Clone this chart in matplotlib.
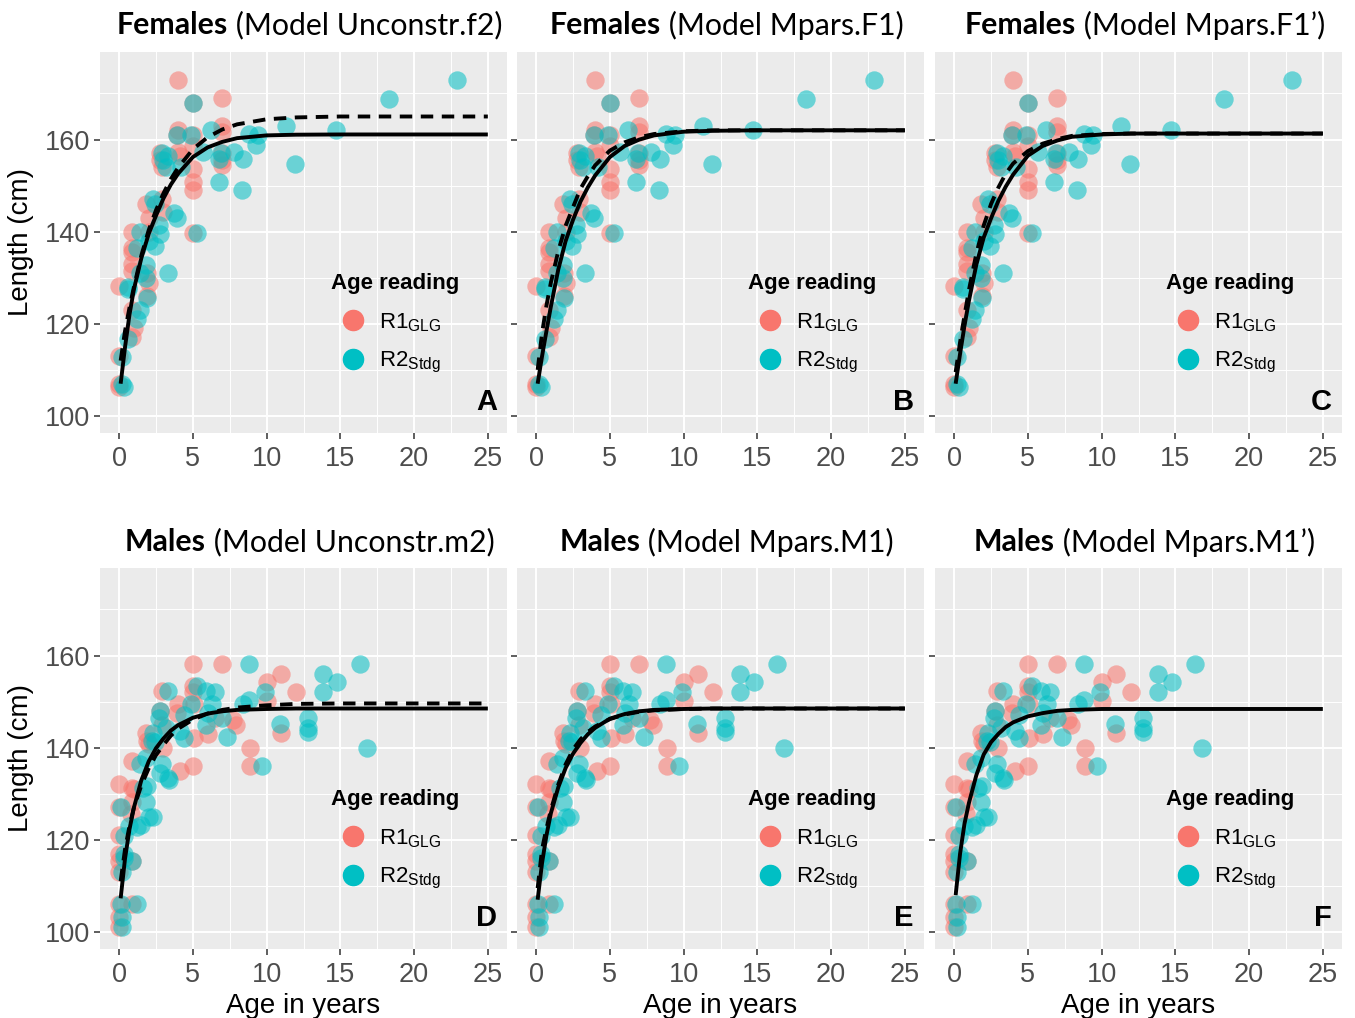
import matplotlib
matplotlib.use("Agg")
import matplotlib.pyplot as plt
from matplotlib.lines import Line2D

plt.rcParams['font.family'] = ['Liberation Sans', 'DejaVu Sans']
plt.rcParams['mathtext.fontset'] = 'custom'
plt.rcParams['mathtext.rm'] = 'Liberation Sans'

# ---- data ----
fem_r1_age = [0.0, 0.0, 0.0, 0.0, 0.9, 0.9, 0.9, 0.9, 0.9, 0.9, 0.9, 1.0, 1.8, 1.9, 1.9, 2.0, 2.0,
              2.0, 2.8, 2.8, 2.9, 2.9, 3.0, 3.9, 4.0, 4.0, 4.0, 4.1, 5.0, 5.0, 5.0, 5.0, 5.0, 5.0,
              5.0, 7.0, 7.0, 7.0, 7.0, 7.0, 7.0]
fem_r1_len = [106.9, 106.2, 113.0, 128.2, 117.1, 123.1, 131.4, 133.0, 135.5, 136.4, 140.0, 119.0,
              146.0, 126.0, 131.0, 128.8, 140.0, 143.0, 157.0, 155.5, 154.0, 147.0, 144.3, 161.0,
              162.0, 173.0, 157.3, 156.5, 168.0, 161.0, 158.7, 150.8, 149.0, 139.8, 153.5, 169.0,
              163.0, 161.6, 157.0, 155.5, 154.5]
fem_r2_age = [22.9, 18.3, 5.0, 6.2, 3.9, 4.9, 11.3, 14.7, 8.8, 9.4, 9.3, 5.7, 7.8, 8.4, 6.8, 11.9,
              3.3, 3.2, 4.2, 6.8, 8.3, 2.3, 2.4, 3.7, 3.9, 2.7, 2.8, 5.3, 1.4, 1.2, 2.4, 1.8, 3.3,
              0.6, 0.6, 1.4, 1.8, 1.9, 1.4, 1.2, 0.6, 0.2, 0.2, 0.3, 2.9, 3.0, 6.9, 2.0]
fem_r2_len = [173.0, 168.9, 168.0, 162.0, 161.0, 161.0, 162.9, 162.0, 161.2, 161.0, 158.8, 157.3,
              157.3, 155.7, 155.8, 154.7, 156.5, 154.0, 154.0, 150.8, 149.0, 147.0, 146.0, 144.0,
              142.9, 141.4, 139.6, 139.8, 140.0, 136.4, 136.8, 132.8, 131.0, 128.0, 127.5, 131.0,
              130.0, 125.6, 123.1, 121.0, 116.6, 112.8, 106.9, 106.2, 157.0, 155.5, 157.0, 138.0]

mal_r1_age = [5.0, 7.0, 11.0, 10.0, 12.0, 2.9, 5.0, 5.0, 4.0, 5.1, 10.0, 2.8, 7.9, 6.0, 11.0, 5.1,
              1.8, 1.9, 8.9, 8.9, 5.0, 0.9, 4.1, 0.0, 0.9, 0.0, 0.9, 0.8, 0.0, 0.0, 0.0, 0.0, 0.9,
              0.0, 0.0, 0.0, 2.9, 3.9, 0.9, 2.0, 6.5, 7.7, 1.0, 3.0]
mal_r1_len = [158.2, 158.2, 156.0, 154.3, 152.1, 152.3, 153.4, 152.1, 149.4, 149.4, 150.1, 148.0,
              145.0, 143.0, 143.2, 142.2, 143.2, 141.4, 140.0, 136.0, 136.0, 137.0, 135.0, 132.2,
              131.2, 127.1, 128.3, 125.6, 121.1, 117.0, 115.5, 113.0, 115.5, 106.0, 103.2, 101.0,
              145.0, 147.6, 106.0, 140.9, 146.5, 146.0, 131.1, 140.0]
mal_r2_age = [8.8, 16.3, 13.8, 14.8, 13.8, 3.3, 5.3, 5.9, 6.5, 9.9, 8.8, 8.4, 4.9, 6.3, 2.8, 2.7,
              4.4, 5.9, 10.9, 12.8, 12.8, 12.8, 7.3, 3.2, 4.1, 4.4, 2.3, 2.2, 16.8, 9.7, 1.8, 1.4,
              2.9, 3.3, 1.9, 1.6, 0.1, 1.8, 0.7, 1.2, 2.0, 0.3, 0.3, 0.9, 0.2, 0.1, 1.2, 0.2, 0.2,
              2.4, 3.4, 2.8, 1.5, 2.3, 0.3, 7.0, 6.0]
mal_r2_len = [158.2, 158.2, 156.0, 154.3, 152.1, 152.3, 153.4, 152.3, 152.1, 152.1, 150.3, 149.4,
              149.4, 149.4, 148.0, 146.5, 147.2, 145.0, 145.2, 146.4, 144.3, 143.3, 142.3, 144.3,
              143.6, 142.2, 143.2, 141.4, 140.0, 136.0, 137.8, 136.5, 136.4, 133.5, 131.7, 131.2,
              127.1, 128.1, 123.0, 122.8, 125.0, 120.9, 117.0, 115.5, 113.0, 106.0, 106.0, 103.2,
              101.0, 141.2, 133.0, 134.4, 123.2, 125.0, 116.0, 146.5, 147.5]

# fitted growth curves, read at these ages
curve_age = [0.1, 0.4, 0.7, 1.0, 1.5, 2.0, 2.5, 3.0, 3.5, 4.0, 5.0, 6.0, 7.0, 8.0, 10.0, 12.0, 15.0, 25.0]
a_solid = [107, 115, 122, 127.5, 134.2, 139.5, 143.5, 147.2, 150.2, 152.6, 156.2, 158.3, 159.5, 160.3, 160.9, 161.05, 161.1, 161.1]
a_dash = [112, 118.5, 123.5, 128, 134.8, 140.3, 144.7, 148.3, 151.4, 153.9, 157.9, 160.5, 162.2, 163.3, 164.4, 164.8, 165, 165]
b_solid = [107, 113, 118.5, 123.8, 131.8, 138, 142.6, 146.5, 149.6, 152.2, 156.2, 158.6, 160, 160.9, 161.7, 161.9, 162, 162]
b_dash = [110, 118, 124, 129, 135.8, 141.3, 145.3, 149.3, 152, 154.4, 157.6, 159.4, 160.5, 161.2, 161.8, 162, 162, 162]
c_solid = [107, 113.5, 119.6, 125, 132.8, 138.7, 142.9, 146.7, 149.8, 152.4, 156.5, 158.6, 159.8, 160.6, 161.1, 161.3, 161.3, 161.3]
c_dash = [109.5, 116, 121.8, 127.3, 135.2, 141.3, 146, 149.6, 152.6, 154.8, 157.5, 159.1, 160.1, 160.8, 161.2, 161.3, 161.3, 161.3]
d_solid = [107.3, 116, 122.3, 127, 132.9, 137, 139.9, 142, 143.7, 144.9, 146.5, 147.4, 147.9, 148.2, 148.4, 148.5, 148.5, 148.5]
d_dash = [111, 118, 123, 127, 131.8, 135.5, 138.4, 140.6, 142.6, 144.1, 146.1, 147.4, 148.2, 148.7, 149.2, 149.5, 149.6, 149.6]
e_solid = [107, 115, 121, 125.8, 131.4, 135.6, 138.7, 141, 142.9, 144.3, 146.3, 147.3, 147.9, 148.2, 148.4, 148.5, 148.5, 148.5]
e_dash = [109.5, 118, 122.5, 126.5, 132, 136.4, 139.6, 141.8, 143.4, 144.6, 146.2, 147.2, 147.8, 148.1, 148.4, 148.5, 148.5, 148.5]
f_solid = [108, 117, 123.5, 128, 134, 138.5, 141.2, 143, 144.5, 145.5, 146.8, 147.5, 148, 148.2, 148.4, 148.4, 148.4, 148.4]

sex_names = ['Females', 'Females', 'Females', 'Males', 'Males', 'Males']
model_names = ['Unconstr.f2', 'Mpars.F1', 'Mpars.F1\u2019', 'Unconstr.m2', 'Mpars.M1', 'Mpars.M1\u2019']
panel_letters = ['A', 'B', 'C', 'D', 'E', 'F']
solid_curves = [a_solid, b_solid, c_solid, d_solid, e_solid, f_solid]
dash_curves = [a_dash, b_dash, c_dash, d_dash, e_dash, None]  # F has only the solid fit

RED = '#F8766D'
TEAL = '#00BFC4'

W, H = 1355, 1018
fig = plt.figure(figsize=(W / 100, H / 100), dpi=100)
lefts = [100, 517, 935]
tops = [52, 568]
pw, ph = 407, 381

axes = []
for i in range(6):
    r, c = divmod(i, 3)
    ax = fig.add_axes([lefts[c] / W, 1 - (tops[r] + ph) / H, pw / W, ph / H])
    axes.append(ax)

renderer = fig.canvas.get_renderer()

for i, ax in enumerate(axes):
    r, c = divmod(i, 3)
    ax.set_facecolor('#EBEBEB')
    for s in ax.spines.values():
        s.set_visible(False)
    ax.set_xlim(-1.3, 26.3)
    ax.set_ylim(96.3, 179)
    ax.set_xticks([0, 5, 10, 15, 20, 25])
    ax.set_xticks([2.5, 7.5, 12.5, 17.5, 22.5], minor=True)
    ax.set_yticks([100, 120, 140, 160])
    ax.set_yticks([110, 130, 150, 170], minor=True)
    ax.grid(which='major', color='white', lw=1.4)
    ax.grid(which='minor', color='white', lw=0.7)
    ax.set_axisbelow(True)
    ax.tick_params(which='major', length=4, width=1.1, color='#333333',
                   labelsize=19.5, labelcolor='#4D4D4D', pad=3)
    ax.tick_params(axis='x', which='major', pad=5)
    ax.tick_params(which='minor', length=0)
    if c != 0:
        ax.set_yticklabels([])
    else:
        ax.set_ylabel('Length (cm)', fontsize=20, labelpad=8)
    if r == 1:
        ax.set_xlabel('Age in years', fontsize=20, labelpad=4)

    if r == 0:
        a1, l1, a2, l2 = fem_r1_age, fem_r1_len, fem_r2_age, fem_r2_len
    else:
        a1, l1, a2, l2 = mal_r1_age, mal_r1_len, mal_r2_age, mal_r2_len
    ax.scatter(a1, l1, s=175, color=RED, alpha=0.55, lw=0, zorder=2)
    ax.scatter(a2, l2, s=175, color=TEAL, alpha=0.55, lw=0, zorder=2)

    ax.plot(curve_age, solid_curves[i], color='black', lw=2.8, zorder=3,
            solid_capstyle='butt')
    if dash_curves[i] is not None:
        ax.plot(curve_age, dash_curves[i], color='black', lw=2.8, zorder=3,
                linestyle=(0, (3.2, 2.2)))

    handles = [Line2D([], [], marker='o', ls='', color=RED, markersize=14.5),
               Line2D([], [], marker='o', ls='', color=TEAL, markersize=14.5)]
    ax.legend(handles, [r'R1$_{\mathrm{GLG}}$', r'R2$_{\mathrm{Stdg}}$'],
              title='Age reading', loc='center', bbox_to_anchor=(0.725, 0.285),
              frameon=False, fontsize=16, title_fontproperties={'weight': 'bold', 'size': 16},
              alignment='left', handlelength=2.0, handletextpad=0.15, labelspacing=0.75)

    ax.text(0.975, 0.045, panel_letters[i], transform=ax.transAxes, ha='right', va='bottom',
            fontsize=21, fontweight='bold')

    # two-part title: bold sex + regular model name, centred over the panel
    tfam = ['Lato', 'DejaVu Sans']
    cx = (lefts[c] + pw / 2 + 6) / W
    ty = 1 - (25 if r == 0 else 542) / H
    t1 = fig.text(0, ty, sex_names[i], fontsize=21.8, fontweight='bold', family=tfam, va='center')
    t2 = fig.text(0, ty, ' (Model ' + model_names[i] + ')', fontsize=21.8, family=tfam, va='center')
    w1 = t1.get_window_extent(renderer).width / W
    w2 = t2.get_window_extent(renderer).width / W
    x0 = cx - (w1 + w2) / 2
    t1.set_x(x0)
    t2.set_x(x0 + w1)

fig.savefig('out.png', dpi=100)
